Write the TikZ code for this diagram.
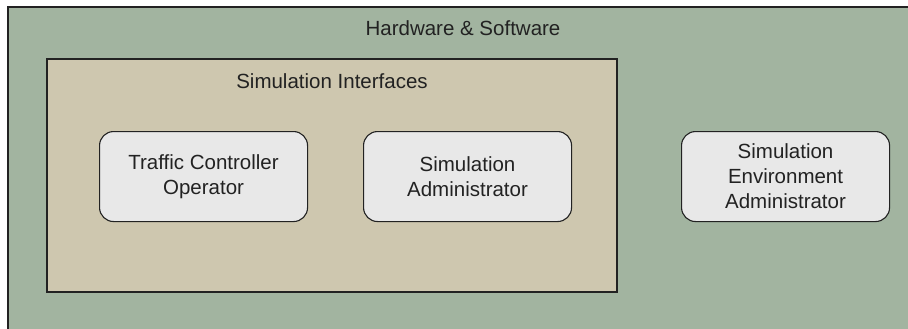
\documentclass[tikz,border=0pt]{standalone}
\usepackage{fontspec}
\setmainfont{Liberation Sans}
\definecolor{hwgreen}{HTML}{A2B4A0}
\definecolor{simtan}{HTML}{CEC7AF}
\definecolor{rolebox}{HTML}{E8E8E8}
\definecolor{ink}{HTML}{222222}
\tikzset{
  frame/.style={draw=ink, line width=1.4pt},
  rolenode/.style={draw=ink, line width=1.1pt, fill=rolebox, rounded corners=14pt,
    minimum width=208pt, minimum height=90pt, align=center, text=ink,
    font=\fontsize{20.5}{25}\selectfont, anchor=north west},
  caption/.style={text=ink, font=\fontsize{20.5}{25}\selectfont}
}
\begin{document}
\begin{tikzpicture}[x=1pt,y=-1pt]
  \useasboundingbox (0,0) rectangle (908,329);
  \fill[white] (0,0) rectangle (908,329);
  \clip (0,0) rectangle (908,329);
  % hardware & software layer
  \draw[frame, fill=hwgreen] (8,7) rectangle (920,340);
  \node[caption] (hw) at (463,28) {Hardware \& Software};
  % simulation interfaces layer
  \draw[frame, fill=simtan] (47,59) rectangle (617,292);
  \node[caption] (si) at (332,81) {Simulation Interfaces};
  % roles
  \node[rolenode] (tco) at (99,131) {Traffic Controller\\Operator};
  \node[rolenode] (sa) at (363,131) {Simulation\\Administrator};
  \node[rolenode] (sea) at (681,131) {Simulation\\Environment\\Administrator};
\end{tikzpicture}
\end{document}
